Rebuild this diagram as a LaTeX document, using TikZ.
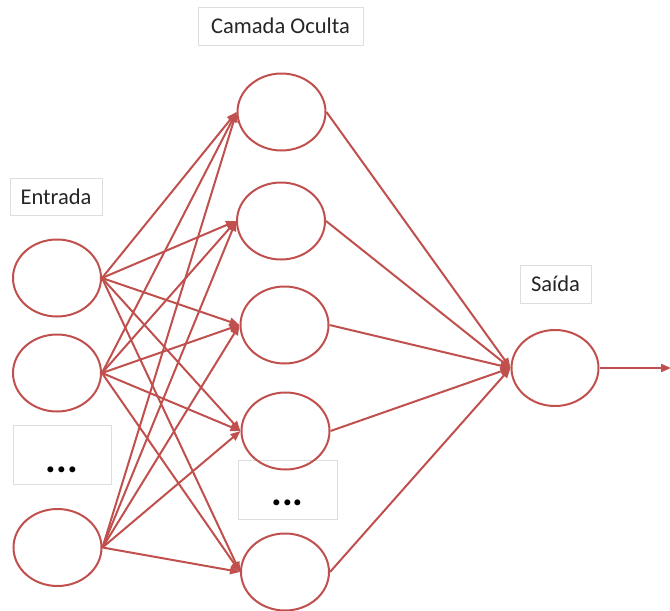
\documentclass[tikz,border=0pt]{standalone}
\usepackage{fontspec}
\setmainfont{Carlito}
\usetikzlibrary{arrows.meta,shapes.geometric}
\definecolor{netred}{RGB}{192,80,77}
\definecolor{boxgray}{RGB}{222,222,222}
\begin{document}
\begin{tikzpicture}[x=1pt,y=-1pt,
  neuron/.style={draw=netred, line width=2pt, ellipse, inner sep=0pt,
    minimum width=88pt, minimum height=77pt},
  link/.style={draw=netred, line width=2pt, -{Triangle[length=10pt,width=8pt]}},
  tag/.style={draw=boxgray, line width=0.8pt, fill=white, inner sep=0pt,
    font=\fontsize{22.5}{27}\selectfont, text=black!85},
  gapbox/.style={draw=boxgray, line width=0.8pt, inner sep=0pt},
  gapdots/.style={inner sep=0pt, font=\fontsize{40}{40}\bfseries\selectfont}]
\useasboundingbox (0,0) rectangle (670,611);

% layer labels
\node[tag, minimum width=92pt, minimum height=37pt] (lin) at (56,196.5) {Entrada};
\node[tag, minimum width=165pt, minimum height=38pt] (lhid) at (280.5,26) {Camada Oculta};
\node[tag, minimum width=71pt, minimum height=38pt] (lout) at (555.5,284) {Saída};

% gaps marking omitted neurons
\node[gapbox, minimum width=98pt, minimum height=59pt] (ib) at (62,454.5) {};
\node[gapdots, anchor=base] (id) at (62,472) {...};
\node[gapbox, minimum width=99pt, minimum height=59pt] (hb) at (287.5,489.5) {};
\node[gapdots, anchor=base] (hd) at (287.5,505) {...};

% input layer
\node[neuron, minimum width=88pt] (i1) at (57,278) {};
\node[neuron, minimum width=88pt] (i2) at (57,373) {};
\node[neuron, minimum width=88pt] (i3) at (57.5,547.5) {};

% hidden layer
\node[neuron] (h1) at (281.5,112) {};
\node[neuron] (h2) at (281,221) {};
\node[neuron] (h3) at (284.5,325) {};
\node[neuron] (h4) at (285.5,431) {};
\node[neuron] (h5) at (285,572) {};

% output layer
\node[neuron, minimum width=87pt, minimum height=76pt] (o) at (555,368) {};
\coordinate (out) at (671,368);

% connections input -> hidden
\foreach \i in {1,2,3}{
  \foreach \h in {1,...,5}{
    \draw[link] (i\i.east) -- (h\h.west);
  }
}
% connections hidden -> output
\foreach \h in {1,...,5}{
  \draw[link] (h\h.east) -- (o.west);
}
\draw[link] (o.east) -- (out);
\end{tikzpicture}
\end{document}
